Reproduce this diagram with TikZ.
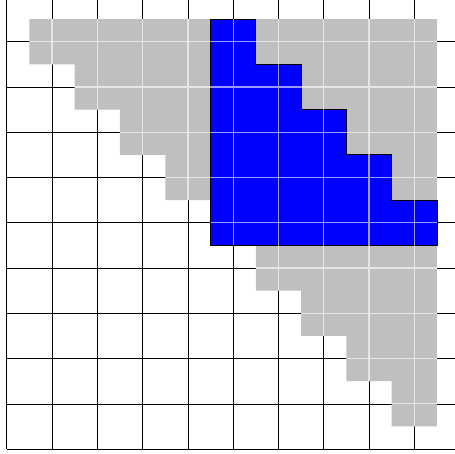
\documentclass[tikz,border=0pt]{standalone}
\usepackage{xcolor}
\tikzset{
  cellgrid/.style={black,line width=0.4pt},
  uppertri/.style={fill=lightgray},
  block/.style={fill=blue,draw=black,line width=0.5pt},
  finegrid/.style={white,opacity=0.6,line width=0.8pt}
}

\begin{document}
\begin{tikzpicture}
        \useasboundingbox (-0.15,-0.1) rectangle (9.9,9.92);
        \clip (-0.15,-0.1) rectangle (9.9,9.92);
        % The coarse grid, cells of unit size.
        \draw[cellgrid] (0,0) grid (10.5,10.5);
        % Upper triangle of the half-shifted cells, and the block inside it.
        \fill[uppertri] (0.5,9.5) -| (9.5,0.5) -| (8.5,1.5) -| (7.5,2.5) -| (6.5,3.5)
          -| (5.5,4.5) -| (4.5,5.5) -| (3.5,6.5) -| (2.5,7.5) -| (1.5,8.5) -| (0.5,9.5);
        \filldraw[block] (4.5,4.5) -- (4.5,9.5) -- (5.5,9.5) |- (6.5,8.5) |- (7.5,7.5)
          |- (8.5,6.5) |- (9.5,5.5) -- (9.5,4.5) -- cycle;
        \begin{scope}
          \clip (0.5,9.5) -| (9.5,0.5) -| (8.5,1.5) -| (7.5,2.5) -| (6.5,3.5)
            -| (5.5,4.5) -| (4.5,5.5) -| (3.5,6.5) -| (2.5,7.5) -| (1.5,8.5) -| (0.5,9.5);
          \draw[finegrid] (0,0) grid (10,10);
        \end{scope}
      \end{tikzpicture}
\end{document}
